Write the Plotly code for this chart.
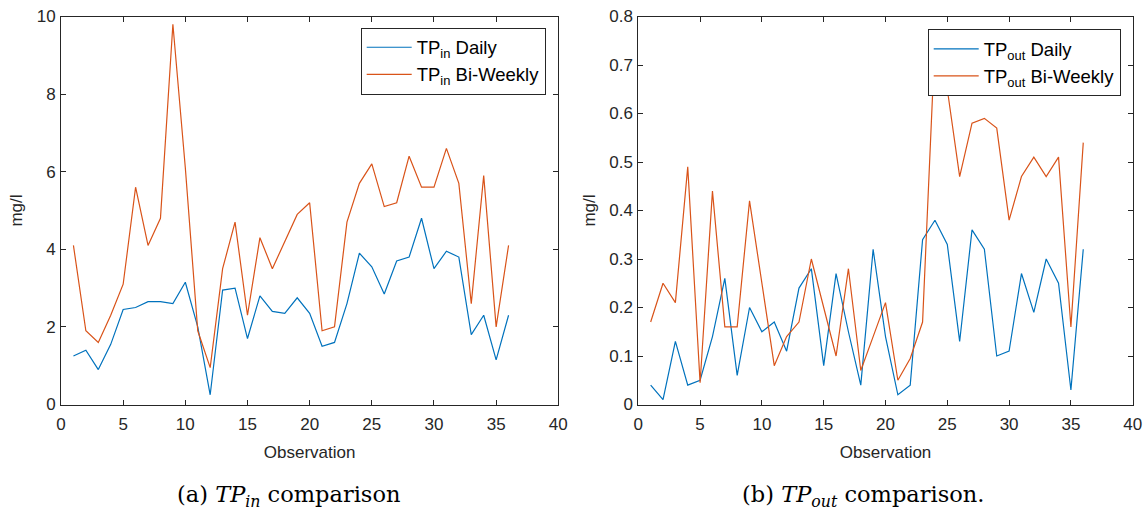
import plotly.graph_objects as go

# Observation index and measured total phosphorus (mg/l)
obs = [1, 2, 3, 4, 5, 6, 7, 8, 9, 10, 11, 12, 13, 14, 15, 16, 17, 18,
       19, 20, 21, 22, 23, 24, 25, 26, 27, 28, 29, 30, 31, 32, 33, 34, 35, 36]

tp_in_daily = [1.25, 1.40, 0.90, 1.55, 2.45, 2.50, 2.65, 2.65, 2.60, 3.15, 2.00, 0.25,
               2.95, 3.00, 1.70, 2.80, 2.40, 2.35, 2.75, 2.35, 1.50, 1.60, 2.60, 3.90,
               3.55, 2.85, 3.70, 3.80, 4.80, 3.50, 3.95, 3.80, 1.80, 2.30, 1.15, 2.30]

tp_in_biweekly = [4.10, 1.90, 1.60, 2.30, 3.10, 5.60, 4.10, 4.80, 9.80, 6.10, 1.90, 0.95,
                  3.50, 4.70, 2.30, 4.30, 3.50, 4.20, 4.90, 5.20, 1.90, 2.00, 4.70, 5.70,
                  6.20, 5.10, 5.20, 6.40, 5.60, 5.60, 6.60, 5.70, 2.60, 5.90, 2.00, 4.10]

tp_out_daily = [0.04, 0.01, 0.13, 0.04, 0.05, 0.14, 0.26, 0.06, 0.20, 0.15, 0.17, 0.11,
                0.24, 0.28, 0.08, 0.27, 0.15, 0.04, 0.32, 0.14, 0.02, 0.04, 0.34, 0.38,
                0.33, 0.13, 0.36, 0.32, 0.10, 0.11, 0.27, 0.19, 0.30, 0.25, 0.03, 0.32]

tp_out_biweekly = [0.17, 0.25, 0.21, 0.49, 0.045, 0.44, 0.16, 0.16, 0.42, 0.25, 0.08, 0.14,
                   0.17, 0.30, 0.20, 0.10, 0.28, 0.07, 0.14, 0.21, 0.05, 0.095, 0.17, 0.75,
                   0.65, 0.47, 0.58, 0.59, 0.57, 0.38, 0.47, 0.51, 0.47, 0.51, 0.16, 0.54]

BLUE = "#0072BD"
ORANGE = "#D95319"
INK = "#262626"
W, H = 1148, 512

fig = go.Figure()

series = [
    (tp_in_daily, "TP<sub>in</sub> Daily", BLUE, "x", "y", "legend", "a1"),
    (tp_in_biweekly, "TP<sub>in</sub> Bi-Weekly", ORANGE, "x", "y", "legend", "a2"),
    (tp_out_daily, "TP<sub>out</sub> Daily", BLUE, "x2", "y2", "legend2", "b1"),
    (tp_out_biweekly, "TP<sub>out</sub> Bi-Weekly", ORANGE, "x2", "y2", "legend2", "b2"),
]
for vals, name, color, xa, ya, leg, grp in series:
    fig.add_trace(go.Scatter(x=obs, y=vals, mode="lines", name=name,
                             line=dict(color=color, width=1.2),
                             xaxis=xa, yaxis=ya, legend=leg, legendgroup=grp))

tick_font = dict(family="Liberation Sans, Arial, sans-serif", size=17, color=INK)
title_font = dict(family="Liberation Sans, Arial, sans-serif", size=17, color=INK)

y_dom = [1 - 404.5 / H, 1 - 16.5 / H]


def xaxis(domain, anchor):
    return dict(domain=domain, anchor=anchor, range=[0, 40], dtick=5, tick0=0,
                showline=True, linecolor=INK, linewidth=1, mirror="ticks",
                ticks="inside", ticklen=5, tickcolor=INK, showgrid=False, zeroline=False,
                tickfont=tick_font, automargin=False, ticklabelstandoff=4,
                title=dict(text="Observation", font=title_font, standoff=13))


def yaxis(anchor, rng, dtick):
    return dict(domain=y_dom, anchor=anchor, range=rng, dtick=dtick, tick0=0,
                showline=True, linecolor=INK, linewidth=1, mirror="ticks",
                ticks="inside", ticklen=5, tickcolor=INK, showgrid=False, zeroline=False,
                tickfont=tick_font, automargin=False, ticklabelstandoff=1,
                title=dict(text="mg/l", font=title_font, standoff=9))


legend_style = dict(bgcolor="white", bordercolor=INK, borderwidth=1,
                    font=dict(family="Liberation Sans, Arial, sans-serif", size=18.5, color="#000000"),
                    xanchor="right", yanchor="top", tracegroupgap=0, itemwidth=45)

caption_font = dict(family="DejaVu Serif, serif", size=22.5, color="#000000")

fig.update_layout(
    width=W, height=H,
    margin=dict(l=0, r=0, t=0, b=0),
    paper_bgcolor="white", plot_bgcolor="white",
    xaxis=xaxis([61 / W, 558.3 / W], "y"),
    yaxis=yaxis("x", [0, 10], 2),
    xaxis2=xaxis([638.3 / W, 1132.7 / W], "y2"),
    yaxis2=yaxis("x2", [0, 0.8], 0.1),
    legend=dict(x=545.7 / W, y=1 - 27.7 / H, **legend_style),
    legend2=dict(x=1120.7 / W, y=1 - 29.3 / H, **legend_style),
    annotations=[
        dict(text="(a) <i>TP</i><sub><i>in</i></sub> comparison", x=288 / W, y=1 - 496 / H,
             xref="paper", yref="paper", showarrow=False, font=caption_font,
             xanchor="center", yanchor="middle"),
        dict(text="(b) <i>TP</i><sub><i>out</i></sub> comparison.", x=863 / W, y=1 - 496 / H,
             xref="paper", yref="paper", showarrow=False, font=caption_font,
             xanchor="center", yanchor="middle"),
    ],
)

fig.write_html("out.html")
